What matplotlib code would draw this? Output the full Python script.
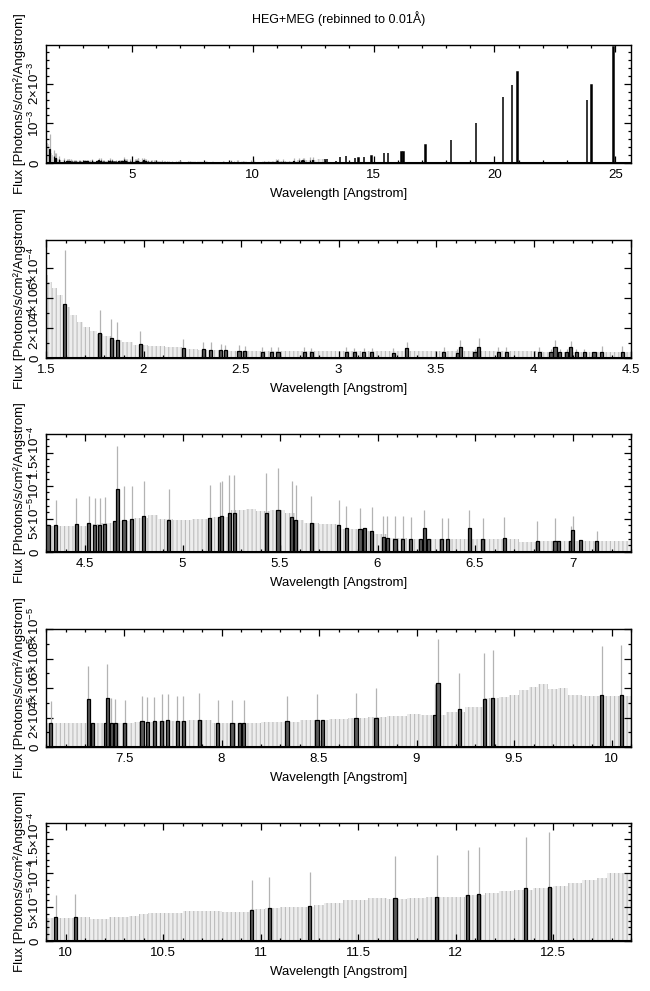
import numpy as np
import matplotlib as mpl
mpl.use('Agg')
from matplotlib import pyplot as plt
from matplotlib.ticker import MultipleLocator, FuncFormatter

# Terminology: env=upper error of empty bins  err=top of error bar  wave=Angstrom

# ----- upper error envelope of the empty 0.01 A bins
env_wave = [1.45, 1.50, 1.52, 1.546, 1.57, 1.606, 1.64, 1.674, 1.71, 1.743, 1.777, 1.81,
            1.863, 1.914, 1.98, 2.07, 2.15, 2.24, 2.32, 2.48, 2.7, 3.0, 3.3, 3.6, 3.9, 4.2,
            4.3, 4.5, 4.55, 4.6, 4.7, 4.8, 4.85, 4.9, 5.0, 5.1, 5.2, 5.3, 5.35, 5.4, 5.5,
            5.55, 5.6, 5.65, 5.75, 5.85, 5.95, 6.0, 6.1, 6.2, 6.4, 6.6, 6.7, 6.75, 6.9, 7.1,
            7.2, 7.5, 7.6, 7.75, 7.9, 8.0, 8.1, 8.3, 8.5, 8.6, 8.7, 8.8, 8.9, 9.0, 9.05,
            9.1, 9.2, 9.3, 9.4, 9.45, 9.5, 9.55, 9.6, 9.65, 9.7, 9.75, 9.8, 9.9, 10.0,
            10.1, 10.15, 10.3, 10.35, 10.4, 10.45, 10.5, 10.7, 10.9, 11.0, 11.05, 11.15,
            11.25, 11.3, 11.35, 11.5, 11.6, 11.7, 11.8, 11.9, 12.0, 12.1, 12.2, 12.25,
            12.35, 12.45, 12.55, 12.6, 12.7, 12.75, 12.8, 12.95]
env_flux = [5.6e-4, 5.55e-4, 5.1e-4, 4.7e-4, 4.2e-4, 3.44e-4, 2.89e-4, 2.44e-4, 2.1e-4,
            1.84e-4, 1.62e-4, 1.44e-4, 1.22e-4, 1.04e-4, 8.9e-5, 7.8e-5, 7.1e-5, 6.2e-5,
            5.5e-5, 4.9e-5, 4.6e-5, 4.4e-5, 4.4e-5, 4.5e-5, 4.6e-5, 4.2e-5,
            3.9e-5, 3.9e-5, 4.15e-5, 4.3e-5, 4.65e-5, 5.15e-5, 5.65e-5, 5.0e-5, 4.9e-5,
            5.0e-5, 5.25e-5, 6.3e-5, 6.5e-5, 6.15e-5, 6.4e-5, 5.9e-5, 4.9e-5, 4.4e-5,
            4.15e-5, 3.4e-5, 3.15e-5, 2.65e-5, 2.15e-5, 2.0e-5, 1.9e-5, 1.9e-5, 2.0e-5,
            1.5e-5, 1.65e-5, 1.65e-5,
            1.6e-5, 1.6e-5, 1.68e-5, 1.75e-5, 1.82e-5, 1.6e-5, 1.64e-5, 1.7e-5, 1.82e-5,
            1.93e-5, 2.0e-5, 2.05e-5, 2.1e-5, 2.27e-5, 2.16e-5, 2.16e-5, 2.39e-5, 2.73e-5,
            3.3e-5, 3.36e-5, 3.52e-5, 3.86e-5, 4.05e-5, 4.27e-5, 3.9e-5, 3.98e-5, 3.52e-5,
            3.45e-5, 3.45e-5,
            3.47e-5, 3.3e-5, 3.47e-5, 3.66e-5, 3.96e-5, 4.16e-5, 4.06e-5, 4.4e-5, 4.3e-5,
            4.65e-5, 4.8e-5, 4.95e-5, 5.05e-5, 5.3e-5, 5.54e-5, 6.04e-5, 6.29e-5, 6.14e-5,
            6.29e-5, 6.44e-5, 6.53e-5, 6.78e-5, 7.03e-5, 7.43e-5, 7.52e-5, 7.77e-5,
            8.12e-5, 8.5e-5, 9.0e-5, 9.26e-5, 1.0e-4, 1.0e-4]

# ----- detected bins (flux) and the top of their error bars, 1.5-12.9 A
line_wave = [1.595, 1.776, 1.835, 1.865, 1.983, 2.204, 2.306, 2.344, 2.395, 2.42, 2.49,
             2.52, 2.61, 2.655, 2.69, 2.825, 2.86, 3.04, 3.08, 3.13, 3.17, 3.28, 3.35,
             3.54, 3.61, 3.625, 3.70, 3.72, 3.82, 3.86, 4.03, 4.09, 4.11, 4.135, 4.17,
             4.19, 4.22, 4.26,
             4.31, 4.35, 4.455, 4.52, 4.55, 4.575, 4.60, 4.65, 4.665, 4.70, 4.74, 4.80,
             4.93, 5.14, 5.19, 5.20, 5.24, 5.265, 5.43, 5.49, 5.56, 5.58, 5.66, 5.80,
             5.84, 5.91, 5.935, 5.97, 6.03, 6.05, 6.09, 6.13, 6.17, 6.22, 6.24, 6.26,
             6.33, 6.36, 6.47, 6.54, 6.65, 6.82, 6.91, 6.93, 6.99, 7.00, 7.04,
             7.125, 7.316, 7.337, 7.403, 7.414, 7.435, 7.456, 7.503, 7.592, 7.62, 7.655,
             7.694, 7.725, 7.774, 7.804, 7.885, 7.98, 8.054, 8.092, 8.114, 8.336, 8.49,
             8.517, 8.69, 8.792, 9.093, 9.11, 9.22, 9.347, 9.39,
             9.95, 10.05, 10.954, 11.045, 11.253, 11.69, 11.904, 12.063, 12.12, 12.36,
             12.48]
line_flux = [3.62e-4, 1.67e-4, 1.33e-4, 1.22e-4, 9.3e-5, 6.7e-5, 6.0e-5, 5.6e-5, 5.6e-5,
             5.1e-5, 4.4e-5, 4.4e-5, 4.0e-5, 4.0e-5, 4.0e-5, 3.8e-5, 3.8e-5, 3.8e-5,
             3.8e-5, 3.8e-5, 3.8e-5, 3.3e-5, 6.7e-5, 3.8e-5, 3.3e-5, 7.3e-5, 3.8e-5,
             7.3e-5, 3.8e-5, 3.8e-5, 3.8e-5, 3.8e-5, 7.3e-5, 3.8e-5, 3.8e-5, 7.3e-5,
             3.8e-5, 3.8e-5,
             4.0e-5, 4.0e-5, 4.15e-5, 4.3e-5, 4.1e-5, 4.1e-5, 4.15e-5, 4.65e-5, 9.55e-5,
             4.9e-5, 5.0e-5, 5.4e-5, 4.9e-5, 5.1e-5, 5.25e-5, 5.4e-5, 5.9e-5, 5.9e-5,
             5.9e-5, 6.4e-5, 5.3e-5, 4.9e-5, 4.3e-5, 4.0e-5, 3.55e-5, 3.4e-5, 3.55e-5,
             3.15e-5, 2.3e-5, 2.15e-5, 2.0e-5, 2.0e-5, 1.9e-5, 1.9e-5, 3.65e-5, 1.9e-5,
             1.9e-5, 1.9e-5, 3.65e-5, 1.9e-5, 2.15e-5, 1.65e-5, 1.65e-5, 1.65e-5,
             1.65e-5, 3.3e-5, 1.75e-5,
             1.64e-5, 3.23e-5, 1.66e-5, 1.66e-5, 3.3e-5, 1.66e-5, 1.64e-5, 1.6e-5,
             1.75e-5, 1.7e-5, 1.75e-5, 1.77e-5, 1.82e-5, 1.75e-5, 1.77e-5, 1.86e-5,
             1.6e-5, 1.6e-5, 1.6e-5, 1.6e-5, 1.75e-5, 1.82e-5, 1.82e-5, 2.0e-5, 2.0e-5,
             2.16e-5, 4.32e-5, 2.55e-5, 3.23e-5, 3.3e-5,
             3.5e-5, 3.55e-5, 4.55e-5, 4.8e-5, 5.15e-5, 6.29e-5, 6.44e-5, 6.78e-5,
             6.88e-5, 7.77e-5, 8.0e-5]
line_err = [7.2e-4, 3.2e-4, 2.6e-4, 2.44e-4, 1.82e-4, 1.27e-4, 1.04e-4, 1.04e-4, 9.6e-5,
            8.9e-5, 8.9e-5, 7.8e-5, 7.1e-5, 7.3e-5, 7.3e-5, 7.3e-5, 6.7e-5, 7.1e-5,
            6.7e-5, 6.7e-5, 6.7e-5, 6.7e-5, 1.07e-4, 7.3e-5, 6.0e-5, 1.18e-4, 6.0e-5,
            1.33e-4, 7.3e-5, 7.3e-5, 7.3e-5, 6.0e-5, 1.22e-4, 6.0e-5, 6.0e-5, 1.11e-4,
            6.0e-5, 6.0e-5,
            4.0e-5, 7.9e-5, 8.15e-5, 8.5e-5, 8.15e-5, 8.15e-5, 8.3e-5, 4.65e-5, 1.6e-4,
            9.9e-5, 9.9e-5, 1.07e-4, 9.55e-5, 1.005e-4, 1.05e-4, 1.075e-4, 1.165e-4,
            1.165e-4, 1.19e-4, 1.265e-4, 1.065e-4, 1.015e-4, 8.5e-5, 7.9e-5, 6.9e-5,
            6.65e-5, 3.55e-5, 6.8e-5, 5.4e-5, 5.4e-5, 5.4e-5, 5.4e-5, 5.3e-5, 1.9e-5,
            6.4e-5, 1.9e-5, 5.15e-5, 5.15e-5, 6.3e-5, 5.15e-5, 5.3e-5, 4.65e-5, 5.15e-5,
            1.65e-5, 3.9e-5, 5.4e-5, 1.75e-5,
            3.1e-5, 5.5e-5, 1.66e-5, 1.66e-5, 5.6e-5, 3.3e-5, 3.23e-5, 3.18e-5, 3.45e-5,
            3.36e-5, 3.4e-5, 3.59e-5, 3.59e-5, 3.45e-5, 3.45e-5, 3.64e-5, 3.18e-5,
            3.18e-5, 1.6e-5, 3.18e-5, 3.45e-5, 3.59e-5, 1.82e-5, 3.64e-5, 4.0e-5,
            4.27e-5, 7.3e-5, 5.0e-5, 6.4e-5, 6.55e-5,
            6.85e-5, 6.9e-5, 9.0e-5, 9.5e-5, 1.02e-4, 1.26e-4, 1.27e-4, 1.34e-4, 1.38e-4,
            1.54e-4, 1.6e-4]

# ----- strong lines only seen in the overview panel
strong_wave = [13.0, 13.08, 13.45, 13.62, 13.85, 14.22, 14.38, 14.6, 14.92, 15.44, 15.6,
               16.15, 16.24, 17.15, 18.2, 19.23, 20.35, 20.72, 20.95, 23.82, 24.02, 24.93]
strong_flux = [1.0e-4, 1.0e-4, 5.0e-5, 1.4e-4, 1.7e-4, 1.2e-4, 1.3e-4, 1.45e-4, 1.7e-4,
               2.5e-4, 2.45e-4, 2.8e-4, 2.8e-4, 4.5e-4, 5.8e-4, 1.0e-3, 1.66e-3, 1.97e-3,
               2.31e-3, 1.6e-3, 1.96e-3, 2.93e-3]

# ----- panels
panel_xlim = [(1.45, 25.65), (1.5, 4.5), (4.3, 7.3), (7.1, 10.1), (9.9, 12.9)]
panel_ymax = [2.98e-3, 7.9e-4, 1.78e-4, 8.0e-5, 1.74e-4]
panel_ymajor = [1e-3, 2e-4, 5e-5, 2e-5, 5e-5]
panel_yminor = [2e-4, 1e-4, 1e-5, 1e-5, 1e-5]
panel_xmajor = [5, 0.5, 0.5, 0.5, 0.5]
panel_xminor = [1, 0.1, 0.1, 0.1, 0.1]
panel_top_px = [45, 240, 434, 629, 823]

plt.rcParams['font.family'] = ['Liberation Sans', 'DejaVu Sans']
plt.rcParams['mathtext.fontset'] = 'custom'
plt.rcParams['mathtext.rm'] = 'Liberation Sans'
plt.rcParams['mathtext.it'] = 'Liberation Sans:italic'
plt.rcParams['hatch.linewidth'] = 0.8


def sci_label(v, pos=None):
    """0, 10^-3, 2x10^-4, 1.5x10^-4 style labels."""
    if abs(v) < 1e-12:
        return '0'
    if v < 0:
        return ''
    exp = int(np.floor(np.log10(v) + 1e-9))
    mant = v / 10**exp
    if abs(mant - 1) < 1e-6:
        return r'$10^{%d}$' % exp
    return r'$%g\!\times\!10^{%d}$' % (round(mant, 3), exp)


W, H = 650, 991
fig = plt.figure(figsize=(W / 100, H / 100), dpi=100)
fig.text(338.5 / W, 1 - 19 / H, 'HEG+MEG (rebinned to 0.01Å)', ha='center', va='center',
         fontsize=9)

axh = 118
for i in range(5):
    ax = fig.add_axes([46 / W, 1 - (panel_top_px[i] + axh) / H, 585 / W, axh / H])
    # envelope of empty bins: light grey with the vertical error lines
    ax.fill_between(env_wave, env_flux, step='mid', facecolor='#ededed',
                    edgecolor='#bdbdbd', hatch='||||', linewidth=0, zorder=1)
    # error bars above detected bins
    ax.vlines(line_wave, line_flux, line_err, color='#b3b3b3', linewidth=0.9, zorder=2)
    ax.bar(line_wave, line_flux, width=0.016, color='#5a5a5a', edgecolor='black',
           linewidth=0.9, zorder=3)
    ax.bar(strong_wave, strong_flux, width=0.016, color='#5a5a5a', edgecolor='black',
           linewidth=1.1, zorder=3)
    ax.axhline(0, color='black', linewidth=2.2, zorder=4)

    ax.set_xlim(*panel_xlim[i])
    ax.set_ylim(0, panel_ymax[i])
    ax.xaxis.set_major_locator(MultipleLocator(panel_xmajor[i]))
    ax.xaxis.set_minor_locator(MultipleLocator(panel_xminor[i]))
    ax.yaxis.set_major_locator(MultipleLocator(panel_ymajor[i]))
    ax.yaxis.set_minor_locator(MultipleLocator(panel_yminor[i]))
    ax.xaxis.set_major_formatter(FuncFormatter(lambda v, p: '%g' % round(v, 3)))
    ax.yaxis.set_major_formatter(FuncFormatter(sci_label))
    ax.tick_params(which='both', direction='in', top=True, right=True, labelsize=9.5,
                   width=0.9)
    ax.tick_params(which='major', length=5)
    ax.tick_params(which='minor', length=2.5)
    ax.tick_params(axis='y', labelrotation=90, pad=3)
    ax.tick_params(axis='x', pad=4)
    for lbl in ax.get_yticklabels():
        lbl.set_va('center')
    for sp in ax.spines.values():
        sp.set_linewidth(1.0)

    ax.set_xlabel('Wavelength [Angstrom]', fontsize=9.5)
    ax.xaxis.set_label_coords(0.5, -0.215)
    ax.set_ylabel('Flux [Photons/s/cm²/Angstrom]', fontsize=9.5)
    ax.yaxis.set_label_coords(-0.035, 0.5)

fig.savefig('out.png', dpi=100)
